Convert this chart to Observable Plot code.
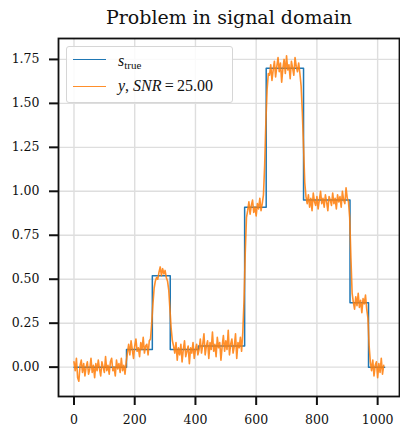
<!DOCTYPE html>
<html><head><meta charset="utf-8">
<script src="https://cdn.jsdelivr.net/npm/d3@7"></script>
<script src="https://cdn.jsdelivr.net/npm/@observablehq/plot@0.6"></script>
<style>
body{margin:0;background:#fff;}
#wrap{position:relative;width:400px;height:428px;}
#legend{position:absolute;left:66px;top:46px;width:167px;height:57px;border:1px solid #d6d6d6;border-radius:3px;background:rgba(255,255,255,0.85);box-sizing:border-box;font-family:"Liberation Serif","DejaVu Serif",serif;color:#111;}
.sw{position:absolute;left:6px;width:33px;height:0;}
.lt{position:absolute;left:51px;font-size:16px;line-height:16px;white-space:nowrap;}
.lt i{font-style:italic;}
.lt sub{font-size:11px;vertical-align:-3px;line-height:0;}
</style>
</head><body>
<div id="wrap"></div>
<script>
// True piecewise-constant signal: segment starts (sample index) and levels
const stepStart = [0, 173, 258, 317, 410, 562, 633, 756, 909, 970];
const stepLevel = [0, 0.10, 0.52, 0.10, 0.12, 0.91, 1.70, 0.95, 0.366, 0];
const signalEnd = 1023;

// Observed noisy signal y, read every 4th sample (sample index = 4*i)
const sampleStep = 4;
const yObserved = [
  // level 0 (x 0..172)
  0.03, -0.02, 0.05, -0.06, -0.08, 0.01, 0.04, -0.03, 0.02, -0.05,
  0.00, 0.03, -0.04, -0.01, 0.05, -0.03, 0.01, -0.06, 0.02, -0.02,
  0.04, -0.01, -0.05, 0.03, 0.00, -0.03, 0.06, -0.02, 0.01, -0.04,
  0.03, 0.05, -0.02, 0.00, -0.05, 0.04, -0.01, 0.02, -0.03, 0.05,
  -0.02, 0.01, -0.04, 0.03,
  // level 0.10 (x 176..248)
  0.08, 0.13, 0.07, 0.15, 0.10, 0.05, 0.12, 0.16, 0.09, 0.11,
  0.06, 0.14, 0.10, 0.17, 0.08, 0.12, 0.13, 0.07, 0.15,
  // rise (x 252..272)
  0.16, 0.25, 0.36, 0.45, 0.49, 0.51,
  // peak and fall (x 276..328)
  0.50, 0.54, 0.57, 0.52, 0.56, 0.53, 0.55, 0.51, 0.49, 0.44,
  0.33, 0.22, 0.15, 0.12,
  // level 0.10 (x 332..408)
  0.08, 0.14, 0.04, 0.11, 0.07, 0.13, 0.03, 0.10, 0.15, 0.06,
  0.09, 0.12, 0.02, 0.11, 0.08, 0.14, 0.05, 0.10, 0.13, 0.07,
  // level 0.12 (x 412..552)
  0.10, 0.16, 0.08, 0.13, 0.19, 0.07, 0.12, 0.15, 0.05, 0.14,
  0.10, 0.20, 0.09, 0.13, 0.06, 0.17, 0.11, 0.14, 0.04, 0.12,
  0.18, 0.09, 0.15, 0.10, 0.21, 0.07, 0.13, 0.16, 0.08, 0.12,
  0.19, 0.05, 0.14, 0.11, 0.17, 0.09,
  // rise (x 556..568)
  0.20, 0.38, 0.65, 0.85,
  // level 0.91 (x 572..620)
  0.89, 0.94, 0.87, 0.92, 0.95, 0.88, 0.91, 0.86, 0.93, 0.90,
  0.96, 0.89, 0.93,
  // rise (x 624..640)
  0.98, 1.15, 1.40, 1.58, 1.67,
  // level 1.70 (x 644..744)
  1.66, 1.72, 1.63, 1.69, 1.74, 1.65, 1.71, 1.76, 1.68, 1.73,
  1.62, 1.70, 1.75, 1.67, 1.77, 1.69, 1.72, 1.64, 1.74, 1.70,
  1.66, 1.76, 1.71, 1.68, 1.73, 1.67,
  // fall (x 748..764)
  1.60, 1.45, 1.25, 1.05, 0.97,
  // level 0.95 (x 768..904)
  0.93, 0.98, 0.91, 0.96, 0.89, 0.99, 0.94, 0.92, 0.97, 0.90,
  0.95, 1.00, 0.93, 0.96, 0.91, 0.98, 0.94, 0.89, 0.97, 0.95,
  0.92, 0.99, 0.93, 0.96, 0.90, 0.98, 0.94, 0.97, 0.91, 1.00,
  0.95, 0.93, 1.02, 0.96, 0.94,
  // fall (x 908..916)
  0.85, 0.62, 0.42,
  // level 0.366 (x 920..964)
  0.37, 0.33, 0.40, 0.35, 0.42, 0.34, 0.38, 0.31, 0.39, 0.36,
  0.41, 0.33,
  // fall (x 968..976)
  0.28, 0.12, 0.03,
  // level 0 (x 980..1020)
  -0.02, 0.04, -0.05, 0.01, 0.03, -0.06, 0.02, -0.03, 0.05, -0.04,
  0.01
];

const xTicks = [0, 200, 400, 600, 800, 1000];
const yTicks = [0, 0.25, 0.5, 0.75, 1.0, 1.25, 1.5, 1.75];
const titleText = "Problem in signal domain";

const trueData = stepStart.map((x, i) => ({x, v: stepLevel[i]}))
  .concat([{x: signalEnd, v: stepLevel[stepLevel.length - 1]}]);
const obsData = yObserved.map((v, i) => ({x: i * sampleStep, v}));

const plot = Plot.plot({
  width: 400, height: 428,
  marginTop: 38, marginBottom: 32, marginLeft: 58, marginRight: 1,
  style: {fontFamily: "'DejaVu Serif', serif", fontSize: "12.5px", color: "#111", background: "white"},
  x: {domain: [-51, 1072], label: null},
  y: {domain: [-0.167, 1.869], label: null},
  marks: [
    Plot.gridX(xTicks, {stroke: "#dedede", strokeOpacity: 1, strokeWidth: 1.4}),
    Plot.gridY(yTicks, {stroke: "#dedede", strokeOpacity: 1, strokeWidth: 1.4}),
    Plot.line(trueData, {x: "x", y: "v", curve: "step-after", stroke: "#1f77b4", strokeWidth: 1.5}),
    Plot.line(obsData, {x: "x", y: "v", stroke: "#ff7f0e", strokeWidth: 1.6, strokeOpacity: 0.88}),
    Plot.frame({stroke: "#111", strokeWidth: 1.8}),
    Plot.axisX(xTicks, {tickSize: 9, tickPadding: 10, stroke: "#111", strokeWidth: 2, fontSize: 12.5, label: null, tickFormat: d => String(d)}),
    Plot.axisY(yTicks, {tickSize: 9, tickPadding: 10, stroke: "#111", strokeWidth: 2, fontSize: 12.5, label: null, tickFormat: d3.format(".2f")}),
    Plot.text([titleText], {frameAnchor: "top", dy: -15, lineAnchor: "bottom", fontSize: 19, fill: "#111", fontFamily: "'DejaVu Serif', serif"})
  ]
});
const wrap = document.getElementById("wrap");
wrap.appendChild(plot);

const legend = document.createElement("div");
legend.id = "legend";
legend.innerHTML =
  '<div class="sw" style="top:12px;border-top:1.5px solid #1f77b4"></div>' +
  '<div class="lt" style="top:6px"><i>s</i><sub>true</sub></div>' +
  '<div class="sw" style="top:39px;border-top:1.5px solid #ff7f0e;opacity:0.88"></div>' +
  '<div class="lt" style="top:31px"><i>y</i>, <i>SNR</i>&#8201;=&#8201;25.00</div>';
wrap.appendChild(legend);
</script>
</body></html>
